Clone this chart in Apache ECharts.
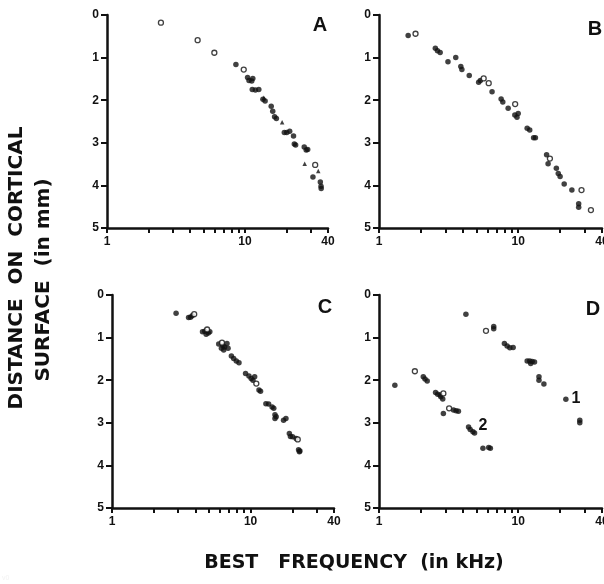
<!DOCTYPE html>
<html><head><meta charset="utf-8">
<script src="https://cdn.jsdelivr.net/npm/echarts@6/dist/echarts.min.js"></script>
<style>html,body{margin:0;background:#fff}
#wrap{position:relative;width:604px;height:584px;background:#fff}
.abs{position:absolute;left:0;top:0;width:604px;height:584px}
#t{pointer-events:none}</style>
</head><body><div id="wrap"><div id="t" class="abs"></div></div>
<script>
// Tick values (kHz) and labels
const xLabelValues = [1, 10, 40];
const xTickValues = [1, 2, 3, 4, 5, 6, 7, 8, 9, 10, 20, 30, 40];
const xRange = [1, 40];
const yRange = [0, 5];
const panelLetters = ['A', 'B', 'C', 'D'];

// Panel A: [best frequency kHz, distance mm]
const aFilled = [[8.6,1.16],[10.45,1.47],[11.4,1.49],[10.7,1.54],[11.2,1.55],[11.3,1.75],[11.9,1.76],[12.6,1.75],[13.5,1.98],[14.0,2.02],[15.5,2.14],[15.9,2.26],[16.4,2.39],[16.9,2.43],[19.3,2.76],[20.1,2.76],[21.1,2.73],[22.5,2.84],[22.8,3.03],[23.3,3.05],[26.9,3.10],[27.8,3.17],[28.5,3.16],[31.1,3.80],[35.2,3.92],[35.6,4.02],[35.7,4.07]];
const aOpen = [[2.46,0.18],[4.54,0.59],[6.0,0.886],[9.8,1.28],[32.3,3.52]];
const aTriangle = [[13.7,1.94],[18.6,2.52],[27.1,3.49],[34.0,3.66]];

// Panel B
const bFilled = [[1.62,0.48],[2.54,0.78],[2.63,0.84],[2.75,0.88],[3.13,1.10],[3.56,1.00],[3.87,1.21],[3.94,1.28],[4.45,1.42],[5.2,1.58],[5.35,1.54],[6.49,1.80],[7.54,1.97],[7.75,2.04],[8.47,2.19],[9.46,2.35],[10.0,2.31],[9.8,2.40],[11.6,2.66],[12.1,2.70],[12.9,2.88],[13.3,2.88],[16.0,3.28],[16.4,3.49],[18.8,3.60],[19.4,3.72],[20.0,3.79],[21.4,3.97],[24.3,4.11],[27.2,4.43],[27.2,4.51]];
const bOpen = [[1.83,0.44],[5.65,1.49],[6.14,1.60],[9.51,2.09],[16.9,3.37],[28.5,4.11],[33.3,4.58]];

// Panel C
const cFilled = [[2.90,0.43],[3.57,0.53],[3.69,0.52],[3.79,0.49],[4.50,0.86],[4.67,0.85],[4.95,0.89],[5.08,0.86],[4.78,0.92],[5.89,1.15],[6.33,1.20],[6.50,1.22],[6.76,1.14],[6.88,1.25],[6.40,1.29],[6.16,1.25],[7.27,1.43],[7.55,1.49],[7.89,1.55],[8.25,1.59],[9.2,1.84],[9.73,1.90],[10.1,1.96],[10.4,2.0],[10.7,1.92],[11.5,2.23],[11.8,2.26],[12.9,2.55],[13.5,2.56],[14.3,2.63],[14.7,2.66],[15.0,2.81],[15.3,2.86],[15.0,2.90],[17.3,2.94],[18.0,2.90],[19.05,3.25],[19.4,3.32],[20.1,3.33],[21.3,3.37],[22.2,3.63],[22.7,3.66],[22.5,3.68]];
const cOpen = [[3.92,0.45],[4.86,0.81],[6.22,1.12],[11.0,2.08],[21.9,3.39]];

// Panel D (two tracks: 1 and 2)
const d1Filled = [[4.21,0.45],[6.67,0.74],[6.67,0.79],[7.96,1.14],[8.33,1.20],[8.71,1.24],[9.2,1.23],[11.6,1.55],[12.1,1.55],[12.6,1.56],[13.1,1.57],[12.3,1.61],[14.1,1.92],[14.1,2.0],[15.3,2.09],[22.0,2.45],[27.7,2.94],[27.7,3.0]];
const d1Open = [[5.87,0.84]];
const d2Filled = [[1.30,2.12],[2.08,1.92],[2.14,1.97],[2.22,2.02],[2.55,2.29],[2.64,2.33],[2.75,2.35],[2.78,2.39],[2.87,2.44],[2.9,2.78],[3.43,2.70],[3.58,2.72],[3.72,2.73],[4.40,3.10],[4.52,3.16],[4.73,3.21],[4.86,3.24],[5.58,3.60],[6.14,3.58],[6.31,3.60]];
const d2Open = [[1.81,1.79],[2.90,2.31],[3.19,2.66]];

const trackLabels = ['1', '2'];
const xTitle = 'BEST   FREQUENCY  (in kHz)';
const yTitle1 = 'DISTANCE  ON  CORTICAL';
const yTitle2 = 'SURFACE  (in mm)';

const FONT = '"Liberation Sans", Arial, Helvetica, sans-serif';
const TFONT = '"DejaVu Sans", Verdana, sans-serif';

const grids = [
  {left: 107, top: 15, width: 221, height: 213, outerBoundsMode: 'none'},
  {left: 379, top: 15, width: 223, height: 213, outerBoundsMode: 'none'},
  {left: 112, top: 295, width: 222, height: 213, outerBoundsMode: 'none'},
  {left: 379, top: 295, width: 223, height: 213, outerBoundsMode: 'none'}
];

function xa(i) {
  return {
    type: 'log', gridIndex: i, min: xRange[0], max: xRange[1],
    axisLine: {show: true, onZero: false, lineStyle: {color: '#111', width: 2.5}},
    axisTick: {show: true, length: 5, customValues: xTickValues.slice(), lineStyle: {color: '#111', width: 2}},
    axisLabel: {customValues: xLabelValues.slice(), color: '#111', fontWeight: 'bold', fontFamily: FONT},
    splitLine: {show: false}
  };
}
function ya(i) {
  return {
    type: 'value', gridIndex: i, min: yRange[0], max: yRange[1], interval: 1, inverse: true,
    axisLine: {show: true, onZero: false, lineStyle: {color: '#111', width: 2.5}},
    axisTick: {show: true, length: 6, lineStyle: {color: '#111', width: 2}},
    axisLabel: {color: '#111', fontFamily: FONT, fontWeight: 'bold'},
    splitLine: {show: false}
  };
}

// Marker groups per panel: [data, symbol, size]
const panelGroups = [
  [[aFilled, 'circle', 5.5], [aOpen, 'emptyCircle', 5], [aTriangle, 'triangle', 4.5]],
  [[bFilled, 'circle', 5.5], [bOpen, 'emptyCircle', 5]],
  [[cFilled, 'circle', 5.5], [cOpen, 'emptyCircle', 5]],
  [[d1Filled, 'circle', 5.5], [d1Open, 'emptyCircle', 5], [d2Filled, 'circle', 5.5], [d2Open, 'emptyCircle', 5]]
];

// Variant 0: one series per marker group, explicit item styles
function seriesStyled() {
  const out = [];
  panelGroups.forEach((groups, i) => groups.forEach(([arr, sym, size]) => {
    const s = {type: 'scatter', xAxisIndex: i, yAxisIndex: i, data: arr, symbolSize: size};
    if (sym === 'emptyCircle') Object.assign(s, {symbol: 'circle', itemStyle: {color: '#fff', borderColor: '#111', borderWidth: 1.3}});
    else Object.assign(s, {symbol: sym, itemStyle: {color: '#111'}});
    out.push(s);
  }));
  return out;
}
// Variant 1: one series per panel, per-item symbols, palette colour
function seriesPerPanel() {
  return panelGroups.map((groups, i) => ({
    type: 'scatter', xAxisIndex: i, yAxisIndex: i,
    data: [].concat(...groups.map(([arr, sym, size]) => arr.map(p => ({value: p, symbol: sym, symbolSize: size}))))
  }));
}

function buildOption(series) {
  return {
    animation: false, color: ['#111'],
    grid: grids, xAxis: [0, 1, 2, 3].map(xa), yAxis: [0, 1, 2, 3].map(ya), series: series
  };
}

const wrap = document.getElementById('wrap');
const overlay = document.getElementById('t');
let chart = null, dom = null;

function render(seriesFn, staticPos) {
  if (chart) { chart.dispose(); chart = null; }
  if (dom) { wrap.removeChild(dom); }
  dom = document.createElement('div');
  dom.style.width = '604px'; dom.style.height = '584px';
  if (!staticPos) { dom.className = 'abs'; }
  wrap.insertBefore(dom, overlay);
  chart = echarts.init(dom);
  chart.setOption(buildOption(seriesFn()));
  chart.getZr().flush();
}
function axesVisible() {
  try {
    const cvs = dom.querySelector('canvas');
    if (!cvs) return false;
    const ctx = cvs.getContext('2d');
    const probes = [[102, 120, 10, 1], [200, 223, 1, 10]];
    let ok = 0;
    for (const [x, y, w, h] of probes) {
      const d = ctx.getImageData(x, y, w, h).data;
      for (let k = 0; k < d.length; k += 4) { if (d[k + 3] > 128 && d[k] < 120) { ok++; break; } }
    }
    return ok === probes.length;
  } catch (e) { return true; }
}

const variants = [[seriesStyled, false], [seriesPerPanel, false], [seriesStyled, true], [seriesPerPanel, true]];
let used = -1;
for (let v = 0; v < variants.length; v++) {
  render(variants[v][0], variants[v][1]);
  if (axesVisible()) { used = v; break; }
}
if (used < 0) { render(seriesPerPanel, false); }

// Text layer (panel letters, track labels, axis titles)
const letterPos = [[320, 25], [595, 29], [325, 307], [593, 309]];
const graphic = panelLetters.map((t, i) => ({
  type: 'text', x: letterPos[i][0], y: letterPos[i][1],
  style: {text: t, font: 'bold 20px ' + FONT, fill: '#111', align: 'center', verticalAlign: 'middle'}
}));
graphic.push(
  {type: 'text', x: 576, y: 399, style: {text: trackLabels[0], font: 'bold 16px ' + FONT, fill: '#111', align: 'center', verticalAlign: 'middle'}},
  {type: 'text', x: 483, y: 426, style: {text: trackLabels[1], font: 'bold 16px ' + FONT, fill: '#111', align: 'center', verticalAlign: 'middle'}},
  {type: 'text', x: 354, y: 563, style: {text: xTitle, font: 'bold 19px ' + TFONT, fill: '#111', align: 'center', verticalAlign: 'middle'}},
  {type: 'text', x: 17, y: 268, rotation: Math.PI / 2, style: {text: yTitle1, font: 'bold 20px ' + TFONT, fill: '#111', align: 'center', verticalAlign: 'middle'}},
  {type: 'text', x: 44, y: 280, rotation: Math.PI / 2, style: {text: yTitle2, font: 'bold 20px ' + TFONT, fill: '#111', align: 'center', verticalAlign: 'middle'}},
  {type: 'text', x: 2, y: 582, style: {text: 'v' + used, font: '7px ' + FONT, fill: '#f2f2f2', verticalAlign: 'bottom'}}
);
const textChart = echarts.init(overlay);
textChart.setOption({animation: false, graphic: graphic});
</script></body></html>
